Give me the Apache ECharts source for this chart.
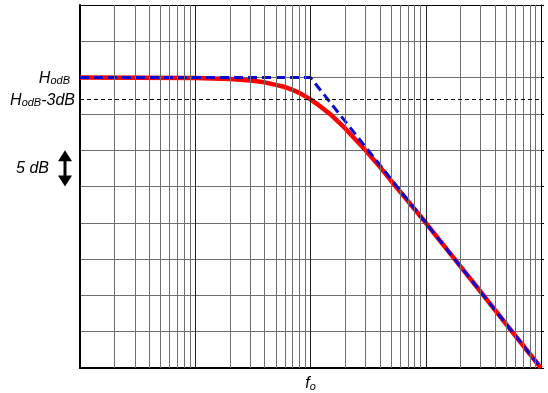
<!DOCTYPE html>
<html>
<head>
<meta charset="utf-8">
<script src="https://cdn.jsdelivr.net/npm/echarts@6/dist/echarts.min.js"></script>
<style>
  html, body { margin: 0; background: #fff; }
  #chart { width: 548px; height: 393px; }
</style>
</head>
<body>
<div id="chart"></div>
<script>
// frequency normalised to fo = 1, gain in dB relative to HodB = 0
const respFreq = [0.01, 0.1, 0.2, 0.3, 0.4, 0.5, 0.6, 0.7, 0.8, 1, 1.2, 1.5, 2, 3, 4, 5, 7, 10, 20, 30, 50, 100]
const respDb = [0, -0.05, -0.2, -0.4, -0.65, -1.0, -1.3, -1.7, -2.1, -3.0, -3.9, -5.1, -7.0, -10.0, -12.3, -14.2, -17.0, -20.0, -26.0, -29.5, -34.0, -40.0]
const asymFreq = [0.01, 1, 100]
const asymDb = [0, 0, -40]
const decades = [0.01, 0.1, 1, 10]
const minorSteps = [2, 3, 4, 5, 6, 7, 8, 9]
const cutoffDb = -3

const font = '"Liberation Sans", Arial, sans-serif'
const sub = {
  h: { fontFamily: font, fontStyle: 'italic', fontSize: 16, color: '#000', verticalAlign: 'bottom', lineHeight: 18 },
  s: { fontFamily: font, fontStyle: 'italic', fontSize: 11, color: '#000', verticalAlign: 'bottom', lineHeight: 14 },
}

const gridLines = []
decades.forEach(d => {
  if (d > 0.01) gridLines.push({ xAxis: d, lineStyle: { color: '#222', width: 1, type: 'solid' } })
  minorSteps.forEach(m => gridLines.push({ xAxis: d * m, lineStyle: { color: '#6e6e6e', width: 1, type: 'solid' } }))
})

const chart = echarts.init(document.getElementById('chart'))
chart.setOption({
  animation: false,
  grid: { left: 80, right: 7, top: 5, bottom: 25 },
  xAxis: [{
    type: 'log', min: 0.01, max: 100, logBase: 10,
    axisLine: { onZero: false, lineStyle: { color: '#000', width: 2 } },
    axisTick: { show: false },
    splitLine: { show: false },
    axisLabel: {
      margin: 6,
      formatter: v => Math.abs(v - 1) < 1e-9 ? '{h|f}{s|o}' : '',
      rich: sub,
    },
  }, {
    type: 'log', min: 0.01, max: 100, position: 'top',
    axisLine: { onZero: false, lineStyle: { color: '#000', width: 1 } },
    axisTick: { show: false }, axisLabel: { show: false }, splitLine: { show: false },
  }],
  yAxis: [{
    type: 'value', min: -40, max: 10, interval: 5,
    axisLine: { show: true, onZero: false, lineStyle: { color: '#000', width: 2 } },
    axisTick: { show: false },
    splitLine: { lineStyle: { color: '#6e6e6e', width: 1 } },
    axisLabel: {
      margin: 10,
      formatter: v => v === 0 ? '{h|H}{s|odB}' : '',
      rich: sub,
    },
  }, {
    type: 'value', min: -40, max: 10, interval: 5, position: 'right',
    axisLine: { show: true, onZero: false, lineStyle: { color: '#000', width: 1 } },
    axisTick: { show: true, length: 3, lineStyle: { color: '#000' } },
    axisLabel: { show: false }, splitLine: { show: false },
  }],
  series: [{
    type: 'line', data: [], silent: true,
    markLine: {
      silent: true, symbol: ['none', 'none'], label: { show: false },
      data: gridLines,
    },
  }, {
    type: 'line', data: [], silent: true,
    markLine: {
      silent: true, symbol: ['none', 'none'],
      data: [{
        yAxis: cutoffDb,
        lineStyle: { color: '#000', width: 1, type: [4, 3] },
        label: { show: true, position: 'start', distance: 5, formatter: '{h|H}{s|odB}{h|-3dB}', rich: sub },
      }],
    },
  }, {
    type: 'line', showSymbol: false, smooth: false,
    data: respFreq.map((f, i) => [f, respDb[i]]),
    lineStyle: { color: '#ff0000', width: 4.5 },
    z: 3,
  }, {
    type: 'line', showSymbol: false,
    data: asymFreq.map((f, i) => [f, asymDb[i]]),
    lineStyle: { color: '#0a0ad2', width: 3, type: [9, 5] },
    z: 4,
  }],
})

// "5 dB" scale marker, placed from the axis scale
const yTop = chart.convertToPixel({ yAxisIndex: 0 }, -10)
const yBot = chart.convertToPixel({ yAxisIndex: 0 }, -15)
const xc = 65
chart.setOption({
  graphic: [
    { type: 'polygon', shape: { points: [[xc, yTop], [xc - 7, yTop + 11], [xc + 7, yTop + 11]] }, style: { fill: '#000' } },
    { type: 'rect', shape: { x: xc - 1.5, y: yTop + 10, width: 3, height: yBot - yTop - 20 }, style: { fill: '#000' } },
    { type: 'polygon', shape: { points: [[xc, yBot], [xc - 7, yBot - 11], [xc + 7, yBot - 11]] }, style: { fill: '#000' } },
    { type: 'text', x: 49, y: (yTop + yBot) / 2, style: { text: '5 dB', font: 'italic 16px ' + font, fill: '#000', align: 'right', verticalAlign: 'middle' } },
  ],
})
</script>
</body>
</html>
